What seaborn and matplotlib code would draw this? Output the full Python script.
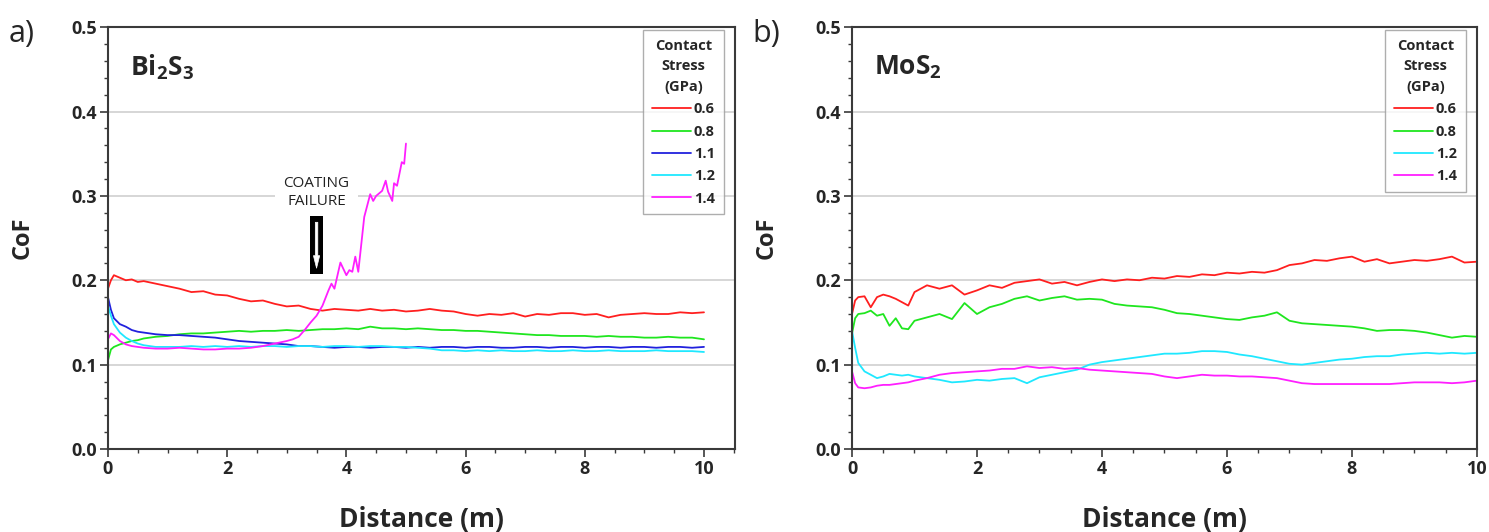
import pandas as pd
import matplotlib
matplotlib.use('Agg')
import matplotlib.pyplot as plt
from matplotlib.patches import Rectangle
from matplotlib.ticker import MultipleLocator, FormatStrFormatter
import seaborn as sns

# ---- data (CoF vs sliding distance) ----
dist_a = [0.0, 0.05, 0.1, 0.2, 0.3, 0.4, 0.5, 0.6, 0.8, 1.0, 1.2, 1.4, 1.6, 1.8, 2.0,
          2.2, 2.4, 2.6, 2.8, 3.0, 3.2, 3.4, 3.6, 3.8, 4.0, 4.2, 4.4, 4.6, 4.8, 5.0,
          5.2, 5.4, 5.6, 5.8, 6.0, 6.2, 6.4, 6.6, 6.8, 7.0, 7.2, 7.4, 7.6, 7.8, 8.0,
          8.2, 8.4, 8.6, 8.8, 9.0, 9.2, 9.4, 9.6, 9.8, 10.0]

bi_06 = [0.190, 0.200, 0.206, 0.203, 0.200, 0.201, 0.198, 0.199, 0.196, 0.193, 0.190, 0.186, 0.187, 0.183, 0.182,
         0.178, 0.175, 0.176, 0.172, 0.169, 0.170, 0.166, 0.164, 0.166, 0.165, 0.164, 0.166, 0.164, 0.165, 0.163,
         0.164, 0.166, 0.164, 0.163, 0.160, 0.158, 0.160, 0.159, 0.161, 0.157, 0.160, 0.159, 0.161, 0.161, 0.159,
         0.160, 0.156, 0.159, 0.160, 0.161, 0.160, 0.160, 0.162, 0.161, 0.162]
bi_08 = [0.105, 0.118, 0.121, 0.124, 0.126, 0.128, 0.129, 0.131, 0.133, 0.134, 0.136, 0.137, 0.137, 0.138, 0.139,
         0.140, 0.139, 0.140, 0.140, 0.141, 0.140, 0.141, 0.142, 0.142, 0.143, 0.142, 0.145, 0.143, 0.143, 0.142,
         0.143, 0.142, 0.141, 0.141, 0.140, 0.140, 0.139, 0.138, 0.137, 0.136, 0.135, 0.135, 0.134, 0.134, 0.134,
         0.133, 0.134, 0.133, 0.133, 0.132, 0.132, 0.133, 0.132, 0.132, 0.130]
bi_11 = [0.180, 0.165, 0.155, 0.148, 0.145, 0.141, 0.139, 0.138, 0.136, 0.135, 0.135, 0.134, 0.133, 0.132, 0.130,
         0.128, 0.127, 0.126, 0.125, 0.124, 0.122, 0.122, 0.121, 0.120, 0.121, 0.121, 0.120, 0.121, 0.121, 0.120,
         0.121, 0.120, 0.121, 0.121, 0.120, 0.121, 0.121, 0.120, 0.120, 0.121, 0.121, 0.120, 0.121, 0.121, 0.120,
         0.121, 0.121, 0.120, 0.121, 0.121, 0.120, 0.121, 0.121, 0.120, 0.121]
bi_12 = [0.170, 0.158, 0.148, 0.138, 0.132, 0.128, 0.125, 0.123, 0.121, 0.121, 0.121, 0.122, 0.121, 0.122, 0.121,
         0.122, 0.121, 0.122, 0.122, 0.121, 0.122, 0.122, 0.121, 0.122, 0.122, 0.121, 0.122, 0.122, 0.121, 0.121,
         0.120, 0.119, 0.117, 0.117, 0.116, 0.117, 0.116, 0.117, 0.116, 0.116, 0.117, 0.116, 0.116, 0.117, 0.116,
         0.116, 0.117, 0.116, 0.116, 0.116, 0.117, 0.116, 0.116, 0.116, 0.115]

dist_a14 = [0.0, 0.05, 0.1, 0.2, 0.3, 0.4, 0.5, 0.6, 0.8, 1.0, 1.2, 1.4, 1.6, 1.8, 2.0, 2.2, 2.4, 2.6,
            2.8, 3.0, 3.1, 3.2, 3.3, 3.4, 3.5, 3.6, 3.7, 3.75, 3.8, 3.9, 4.0, 4.05, 4.1, 4.15, 4.2,
            4.3, 4.4, 4.45, 4.5, 4.6, 4.66, 4.7, 4.77, 4.8, 4.85, 4.93, 4.97, 5.0]
bi_14 = [0.130, 0.137, 0.135, 0.128, 0.124, 0.122, 0.121, 0.120, 0.119, 0.119, 0.120, 0.119, 0.118, 0.118, 0.119,
         0.119, 0.120, 0.122, 0.125, 0.128, 0.130, 0.133, 0.141, 0.150, 0.158, 0.170, 0.188, 0.196, 0.190, 0.221,
         0.206, 0.212, 0.210, 0.228, 0.210, 0.275, 0.302, 0.294, 0.300, 0.306, 0.318, 0.305, 0.294, 0.315, 0.312,
         0.340, 0.338, 0.362]

dist_b = [0.0, 0.05, 0.1, 0.2, 0.3, 0.4, 0.5, 0.6, 0.7, 0.8, 0.9, 1.0, 1.2, 1.4, 1.6, 1.8, 2.0,
          2.2, 2.4, 2.6, 2.8, 3.0, 3.2, 3.4, 3.6, 3.8, 4.0, 4.2, 4.4, 4.6, 4.8, 5.0,
          5.2, 5.4, 5.6, 5.8, 6.0, 6.2, 6.4, 6.6, 6.8, 7.0, 7.2, 7.4, 7.6, 7.8, 8.0,
          8.2, 8.4, 8.6, 8.8, 9.0, 9.2, 9.4, 9.6, 9.8, 10.0]

mo_06 = [0.160, 0.176, 0.180, 0.181, 0.168, 0.180, 0.183, 0.181, 0.178, 0.174, 0.170, 0.186, 0.194, 0.190, 0.194,
         0.183, 0.188, 0.194, 0.191, 0.197, 0.199, 0.201, 0.196, 0.198, 0.194, 0.198, 0.201, 0.199, 0.201, 0.200,
         0.203, 0.202, 0.205, 0.204, 0.207, 0.206, 0.209, 0.208, 0.210, 0.209, 0.212, 0.218, 0.220, 0.224, 0.223,
         0.226, 0.228, 0.222, 0.225, 0.220, 0.222, 0.224, 0.223, 0.225, 0.228, 0.221, 0.222]
mo_08 = [0.137, 0.155, 0.160, 0.161, 0.164, 0.158, 0.160, 0.146, 0.155, 0.143, 0.142, 0.152, 0.156, 0.160, 0.154,
         0.173, 0.160, 0.168, 0.172, 0.178, 0.181, 0.176, 0.179, 0.181, 0.177, 0.178, 0.177, 0.172, 0.170, 0.169,
         0.168, 0.165, 0.161, 0.160, 0.158, 0.156, 0.154, 0.153, 0.156, 0.158, 0.162, 0.152, 0.149, 0.148, 0.147,
         0.146, 0.145, 0.143, 0.140, 0.141, 0.141, 0.140, 0.138, 0.135, 0.132, 0.134, 0.133]
mo_12 = [0.140, 0.120, 0.102, 0.092, 0.088, 0.084, 0.086, 0.089, 0.088, 0.087, 0.088, 0.086, 0.084, 0.082, 0.079,
         0.080, 0.082, 0.081, 0.083, 0.084, 0.078, 0.085, 0.088, 0.091, 0.094, 0.100, 0.103, 0.105, 0.107, 0.109,
         0.111, 0.113, 0.113, 0.114, 0.116, 0.116, 0.115, 0.112, 0.110, 0.107, 0.104, 0.101, 0.100, 0.102, 0.104,
         0.106, 0.107, 0.109, 0.110, 0.110, 0.112, 0.113, 0.114, 0.113, 0.114, 0.113, 0.114]
mo_14 = [0.092, 0.078, 0.073, 0.072, 0.073, 0.075, 0.076, 0.076, 0.077, 0.078, 0.079, 0.081, 0.084, 0.088, 0.090,
         0.091, 0.092, 0.093, 0.095, 0.095, 0.098, 0.096, 0.097, 0.095, 0.096, 0.094, 0.093, 0.092, 0.091, 0.090,
         0.089, 0.086, 0.084, 0.086, 0.088, 0.087, 0.087, 0.086, 0.086, 0.085, 0.084, 0.081, 0.078, 0.077, 0.077,
         0.077, 0.077, 0.077, 0.077, 0.077, 0.078, 0.079, 0.079, 0.079, 0.078, 0.079, 0.081]

stress_colors = {'0.6': '#ff1f1f', '0.8': '#1fe61f', '1.1': '#2121dd',
                 '1.2': '#1fe8ff', '1.4': '#ff1fff'}


def long_frame(series):
    parts = [pd.DataFrame({'Distance': x, 'CoF': y, 'Stress': lab}) for lab, x, y in series]
    return pd.concat(parts, ignore_index=True)


df_a = long_frame([('0.6', dist_a, bi_06), ('0.8', dist_a, bi_08), ('1.1', dist_a, bi_11),
                   ('1.2', dist_a, bi_12), ('1.4', dist_a14, bi_14)])
df_b = long_frame([('0.6', dist_b, mo_06), ('0.8', dist_b, mo_08),
                   ('1.2', dist_b, mo_12), ('1.4', dist_b, mo_14)])

sns.set_style('ticks')
plt.rcParams['font.family'] = ['Open Sans', 'DejaVu Sans']
plt.rcParams['mathtext.fontset'] = 'custom'
plt.rcParams['mathtext.bf'] = 'Open Sans:bold'
plt.rcParams['mathtext.rm'] = 'Open Sans'

fig = plt.figure(figsize=(14.89, 5.32), dpi=100)
ax_a = fig.add_axes([0.0725, 0.156, 0.4211, 0.793])
ax_b = fig.add_axes([0.5722, 0.156, 0.4197, 0.793])


def style_axes(ax, df, xmax, compound):
    sns.lineplot(data=df, x='Distance', y='CoF', hue='Stress', palette=stress_colors,
                 estimator=None, sort=False, lw=1.3, ax=ax)
    ax.set_xlim(0, xmax)
    ax.set_ylim(0, 0.5)
    ax.xaxis.set_major_locator(MultipleLocator(2))
    ax.xaxis.set_minor_locator(MultipleLocator(0.5))
    ax.yaxis.set_major_locator(MultipleLocator(0.1))
    ax.yaxis.set_minor_locator(MultipleLocator(0.02))
    ax.yaxis.set_major_formatter(FormatStrFormatter('%.1f'))
    ax.grid(axis='y', which='major', color='#cfcfcf', lw=1.2, zorder=0)
    ax.set_axisbelow(True)
    for sp in ax.spines.values():
        sp.set_color('#3a3a3a')
        sp.set_linewidth(1.5)
    ax.tick_params(which='major', direction='out', length=6, width=1.2, color='#3a3a3a',
                   labelsize=13, pad=2)
    ax.tick_params(which='minor', direction='out', length=3, width=1.0, color='#3a3a3a')
    for lab in ax.get_xticklabels() + ax.get_yticklabels():
        lab.set_fontweight('bold')
    ax.set_xlabel('Distance (m)', fontsize=19, fontweight='bold', labelpad=20)
    ax.set_ylabel('CoF', fontsize=17, fontweight='bold', labelpad=26)
    ax.text(0.035, 0.905, compound, transform=ax.transAxes, fontsize=19,
            fontweight='bold', va='center', ha='left')
    handles, labels = ax.get_legend_handles_labels()
    leg = ax.legend(handles, labels, title='Contact\nStress\n(GPa)', loc='upper right',
                    bbox_to_anchor=(0.982, 0.993), borderaxespad=0, frameon=True,
                    fancybox=False, edgecolor='#9a9a9a', handlelength=2.7,
                    handletextpad=0.2, labelspacing=0.57, borderpad=0.6,
                    prop={'weight': 'bold', 'size': 10.5},
                    title_fontproperties={'weight': 'bold', 'size': 10.5})
    leg.get_title().set_multialignment('center')
    leg.get_title().set_linespacing(1.6)
    leg.get_frame().set_linewidth(1.0)
    for ln in leg.get_lines():
        ln.set_linewidth(1.3)


style_axes(ax_a, df_a, 10.52, r'$\mathbf{Bi_2S_3}$')
style_axes(ax_b, df_b, 10.0, r'$\mathbf{MoS_2}$')

# coating failure annotation
ax_a.text(3.5, 0.304, 'COATING\nFAILURE', ha='center', va='center', fontsize=11,
          color='#222222', linespacing=1.2,
          bbox=dict(facecolor='white', edgecolor='none', pad=6))
ax_a.add_patch(Rectangle((3.39, 0.208), 0.22, 0.068, facecolor='black', edgecolor='none', zorder=5))
ax_a.annotate('', xy=(3.5, 0.211), xytext=(3.5, 0.272),
              arrowprops=dict(arrowstyle='simple,head_width=0.45,head_length=0.9,tail_width=0.18',
                              fc='white', ec='white', lw=0.5), zorder=6)

fig.text(0.006, 0.936, 'a)', fontsize=22, va='center')
fig.text(0.505, 0.936, 'b)', fontsize=22, va='center')

fig.savefig('out.png', dpi=100)
